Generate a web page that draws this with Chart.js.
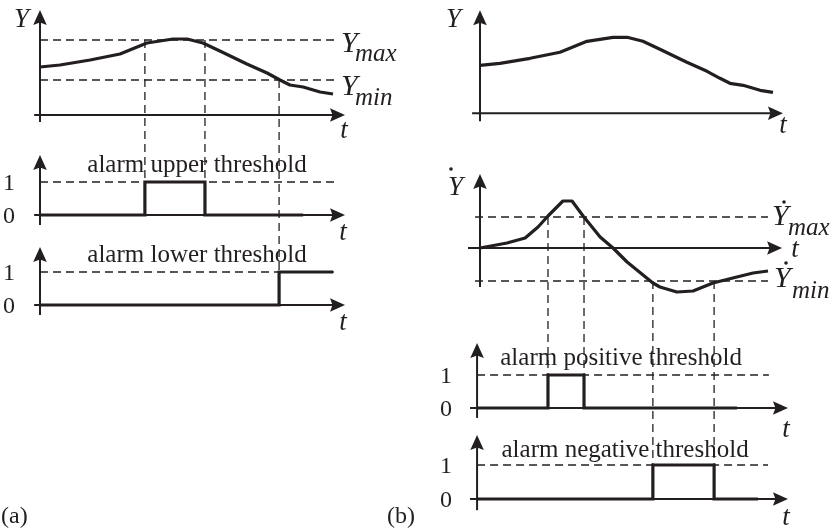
<!DOCTYPE html>
<html>
<head>
<meta charset="utf-8">
<script src="https://cdn.jsdelivr.net/npm/chart.js@4"></script>
<style>
  html, body { margin: 0; padding: 0; background: #fff; }
  #wrap { position: relative; width: 834px; height: 530px; }
</style>
</head>
<body>
<div id="wrap"><canvas id="chartCanvas" width="834" height="530"></canvas></div>
<script>
// Measured signal Y(t), same curve in (a) and (b)
const tY = [0, 0.68, 1.71, 2.73, 3.65, 4.54, 5.02, 5.56, 6.14, 7.06, 7.75, 8.19, 8.53, 8.98, 9.56, 10.0];
const valY = [4.8, 5.0, 5.5, 6.1, 7.2, 7.6, 7.6, 7.2, 6.4, 5.1, 4.2, 3.5, 3.0, 2.8, 2.3, 2.1];
const yMax = 7.5;
const yMin = 3.5;

// Derivative dY/dt in (b)
const tDY = [0, 0.92, 1.54, 1.98, 2.32, 2.83, 3.14, 3.52, 4.10, 4.54, 5.02, 5.90, 6.14, 6.72, 7.27, 7.95, 8.63, 9.32, 9.83];
const valDY = [0.0, 0.5, 1.0, 2.1, 3.2, 4.7, 4.7, 3.2, 1.1, 0.0, -1.4, -3.5, -3.9, -4.4, -4.3, -3.5, -3.0, -2.5, -2.3];
const dyMax = 3.1;
const dyMin = -3.3;

// Times where the thresholds are crossed (the dashed drop lines)
const upperCross = [3.58, 5.63];
const lowerCross = [8.16];
const posCross = [2.32, 3.55];
const negCross = [5.90, 7.99];

// Alarm outputs: switching times and states (stepped)
const upperT = [0, 3.58, 5.63, 8.98];
const upperV = [0, 1, 0, 0];
const lowerT = [0, 8.16, 10.0];
const lowerV = [0, 1, 1];
const posT = [-0.1, 2.32, 3.55, 8.77];
const posV = [0, 1, 0, 0];
const negT = [-0.1, 5.90, 7.99, 9.49];
const negV = [0, 1, 0, 0];

// Extents of the dashed threshold lines (in t)
const spanA = [0, 10.07];
const spanD = [-0.17, 9.83];
const spanP = [-0.1, 9.86];
const spanN = [-0.1, 9.83];

const INK = '#231f20';
const SERIF = '"Liberation Serif", "Times New Roman", serif';
const roman = s => `${s}px ${SERIF}`;
const italic = s => `italic ${s}px ${SERIF}`;

// Where each hidden scale sits on the page: [pixel of zero, pixels per unit]
const W = 834, H = 530;
const xPlace = { xa: [40, 29.3], xb: [480, 29.3] };
const yPlace = {
    ya: [115, 10], yu: [215, 33], yl: [305, 33],
    yb: [113.3, 10], yd: [248, 10], yp: [408, 33], yn: [499, 34]
};

const scales = {};
for (const [id, [zero, unit]] of Object.entries(xPlace)) {
    scales[id] = { type: 'linear', axis: 'x', position: 'bottom', display: false, min: -zero / unit, max: (W - zero) / unit };
}
for (const [id, [zero, unit]] of Object.entries(yPlace)) {
    scales[id] = { type: 'linear', axis: 'y', position: 'left', display: false, min: -(H - zero) / unit, max: zero / unit };
}

function series(xs, ys, t, v, extra) {
    return Object.assign({
        xAxisID: xs, yAxisID: ys,
        data: t.map((x, i) => ({ x: x, y: v[i] })),
        borderColor: INK, borderWidth: 3.2, pointRadius: 0,
        tension: 0, fill: false, borderJoinStyle: 'round'
    }, extra);
}
const step = (xs, ys, t, v) => series(xs, ys, t, v, { stepped: true, borderJoinStyle: 'miter', borderWidth: 3.2 });
const dash = (xs, ys, span, level) => series(xs, ys, span, [level, level], { borderWidth: 1.3, borderDash: [8, 5] });

// drawn first = on top, so curves go first
const datasets = [
    series('xa', 'ya', tY, valY),
    series('xb', 'yb', tY, valY),
    series('xb', 'yd', tDY, valDY),
    step('xa', 'yu', upperT, upperV),
    step('xa', 'yl', lowerT, lowerV),
    step('xb', 'yp', posT, posV),
    step('xb', 'yn', negT, negV),
    dash('xa', 'ya', spanA, yMax),
    dash('xa', 'ya', spanA, yMin),
    dash('xa', 'yu', spanA, 1),
    dash('xa', 'yl', spanA, 1),
    dash('xb', 'yd', spanD, dyMax),
    dash('xb', 'yd', spanD, dyMin),
    dash('xb', 'yp', spanP, 1),
    dash('xb', 'yn', spanN, 1)
];

// vertical dashed lines from the crossing down to the alarm's "1" level
const drops = [
    ...upperCross.map(t => ({ xs: 'xa', t: t, from: ['ya', yMax], to: ['yu', 1] })),
    ...lowerCross.map(t => ({ xs: 'xa', t: t, from: ['ya', yMin], to: ['yl', 1] })),
    ...posCross.map(t => ({ xs: 'xb', t: t, from: ['yd', dyMax], to: ['yp', 1] })),
    ...negCross.map(t => ({ xs: 'xb', t: t, from: ['yd', dyMin], to: ['yn', 1] }))
];

// arrowed axes: horizontal at value 0, vertical at t = origin
const arrowAxes = [
    { xs: 'xa', ys: 'ya', origin: 0, t: [-0.2, 10.41], v: [-0.7, 10.5] },
    { xs: 'xa', ys: 'yu', origin: 0, t: [-0.2, 10.41], v: [-0.3, 1.82] },
    { xs: 'xa', ys: 'yl', origin: 0, t: [-0.2, 10.41], v: [-0.3, 1.76] },
    { xs: 'xb', ys: 'yb', origin: 0, t: [-0.27, 10.34], v: [-0.8, 10.3] },
    { xs: 'xb', ys: 'yd', origin: 0, t: [-0.41, 10.31], v: [-3.9, 7.4] },
    { xs: 'xb', ys: 'yp', origin: -0.1, t: [-0.34, 10.51], v: [-0.3, 1.97] },
    { xs: 'xb', ys: 'yn', origin: -0.1, t: [-0.34, 10.51], v: [-0.33, 1.88] }
];

function alarmTexts(xs, ys, origin, label, ldx, ldy, tipT, tdy) {
    return [
        { s: '1', font: roman(24), at: [xs, origin, ys, 1], dx: -25, dy: 8, align: 'right' },
        { s: '0', font: roman(24), at: [xs, origin, ys, 0], dx: -25, dy: 8, align: 'right' },
        { s: label, font: roman(25), at: [xs, origin, ys, 1], dx: ldx, dy: ldy, align: 'center' },
        { s: 't', font: italic(27), at: [xs, tipT, ys, 0], dx: -2, dy: tdy, align: 'center' }
    ];
}

const texts = [
    { s: 'Y', font: italic(27), at: ['xa', 0, 'ya', 10.5], dx: -11, dy: 17, align: 'right' },
    { s: 't', font: italic(27), at: ['xa', 10.41, 'ya', 0], dx: -1, dy: 23, align: 'center' },
    { s: 'Y', font: italic(30), at: ['xa', 10.07, 'ya', yMax], dx: 6, dy: 12 },
    { s: 'max', font: italic(25), at: ['xa', 10.07, 'ya', yMax], dx: 20, dy: 21 },
    { s: 'Y', font: italic(30), at: ['xa', 10.07, 'ya', yMin], dx: 6, dy: 15 },
    { s: 'min', font: italic(25), at: ['xa', 10.07, 'ya', yMin], dx: 20, dy: 25 },
    ...alarmTexts('xa', 'yu', 0, 'alarm upper threshold', 157, -10, 10.41, 25),
    ...alarmTexts('xa', 'yl', 0, 'alarm lower threshold', 157, -10, 10.41, 25),

    { s: 'Y', font: italic(27), at: ['xb', 0, 'yb', 10.3], dx: -19, dy: 17, align: 'right' },
    { s: 't', font: italic(27), at: ['xb', 10.34, 'yb', 0], dx: 0, dy: 20, align: 'center' },
    { s: 'Y', font: italic(27), at: ['xb', 0, 'yd', 7.3], dx: -17, dy: 20, align: 'right' },
    { dot: true, at: ['xb', 0, 'yd', 7.3], dx: -29, dy: -6 },
    { s: 'Y', font: italic(30), at: ['xb', 9.83, 'yd', dyMax], dx: 4, dy: 8 },
    { dot: true, at: ['xb', 9.83, 'yd', dyMax], dx: 16, dy: -15 },
    { s: 'max', font: italic(25), at: ['xb', 9.83, 'yd', dyMax], dx: 20, dy: 18 },
    { s: 't', font: italic(27), at: ['xb', 10.31, 'yd', 0], dx: 13, dy: 9, align: 'center' },
    { s: 'Y', font: italic(30), at: ['xb', 9.83, 'yd', dyMin], dx: 6, dy: 6 },
    { dot: true, at: ['xb', 9.83, 'yd', dyMin], dx: 18, dy: -18 },
    { s: 'min', font: italic(25), at: ['xb', 9.83, 'yd', dyMin], dx: 24, dy: 17 },
    ...alarmTexts('xb', 'yp', -0.1, 'alarm positive threshold', 144, -10, 10.51, 29),
    ...alarmTexts('xb', 'yn', -0.1, 'alarm negative threshold', 148, -8, 10.51, 26),

    { s: '(a)', font: roman(24), x: 1, y: 523 },
    { s: '(b)', font: roman(24), x: 387, y: 523 }
];

function arrow(ctx, x1, y1, x2, y2) {
    const a = Math.atan2(y2 - y1, x2 - x1), len = 15, hw = 6.8;
    ctx.beginPath();
    ctx.moveTo(x1, y1);
    ctx.lineTo(x2 - Math.cos(a) * (len - 3), y2 - Math.sin(a) * (len - 3));
    ctx.stroke();
    ctx.save();
    ctx.translate(x2, y2);
    ctx.rotate(a);
    ctx.beginPath();
    ctx.moveTo(0, 0);
    ctx.lineTo(-len, -hw);
    ctx.lineTo(-len + 2.5, 0);
    ctx.lineTo(-len, hw);
    ctx.closePath();
    ctx.fill();
    ctx.restore();
}

const figurePlugin = {
    id: 'figure',
    beforeDatasetsDraw(chart) {
        const ctx = chart.ctx;
        ctx.save();
        ctx.strokeStyle = INK;
        ctx.lineWidth = 1.3;
        ctx.setLineDash([8, 5]);
        drops.forEach(d => {
            const x = chart.scales[d.xs].getPixelForValue(d.t);
            ctx.beginPath();
            ctx.moveTo(x, chart.scales[d.from[0]].getPixelForValue(d.from[1]));
            ctx.lineTo(x, chart.scales[d.to[0]].getPixelForValue(d.to[1]));
            ctx.stroke();
        });
        ctx.restore();
    },
    afterDatasetsDraw(chart) {
        const ctx = chart.ctx;
        ctx.save();
        ctx.strokeStyle = INK;
        ctx.fillStyle = INK;
        ctx.lineWidth = 2;
        arrowAxes.forEach(a => {
            const sx = chart.scales[a.xs], sy = chart.scales[a.ys];
            const x0 = sx.getPixelForValue(a.origin), y0 = sy.getPixelForValue(0);
            arrow(ctx, sx.getPixelForValue(a.t[0]), y0, sx.getPixelForValue(a.t[1]), y0);
            arrow(ctx, x0, sy.getPixelForValue(a.v[0]), x0, sy.getPixelForValue(a.v[1]));
        });
        ctx.textBaseline = 'alphabetic';
        texts.forEach(tx => {
            let x = tx.x, y = tx.y;
            if (tx.at) {
                x = chart.scales[tx.at[0]].getPixelForValue(tx.at[1]);
                y = chart.scales[tx.at[2]].getPixelForValue(tx.at[3]);
            }
            x += tx.dx || 0;
            y += tx.dy || 0;
            if (tx.dot) {
                ctx.beginPath();
                ctx.arc(x, y, 1.8, 0, Math.PI * 2);
                ctx.fill();
                return;
            }
            ctx.font = tx.font;
            ctx.textAlign = tx.align || 'left';
            ctx.fillText(tx.s, x, y);
        });
        ctx.restore();
    }
};

window.myChart = new Chart(document.getElementById('chartCanvas'), {
    type: 'line',
    data: { datasets: datasets },
    options: {
        responsive: false,
        animation: false,
        events: [],
        layout: { padding: 0 },
        plugins: { legend: { display: false }, tooltip: { enabled: false }, title: { display: false } },
        scales: scales
    },
    plugins: [figurePlugin]
});
</script>
</body>
</html>
